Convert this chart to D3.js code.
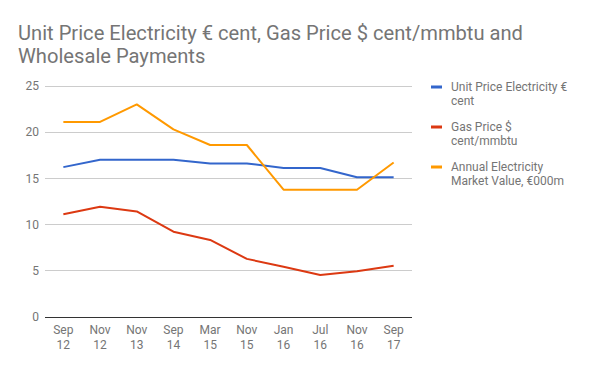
<!DOCTYPE html>
<html>
<head>
<meta charset="utf-8">
<script src="https://d3js.org/d3.v7.min.js"></script>
<style>
  body { margin: 0; background: #fff; font-family: Roboto, sans-serif; }
  svg text { font-family: Roboto, sans-serif; }
</style>
</head>
<body>
<div id="chart"></div>
<script>
// Data
const months = ["Sep", "Nov", "Nov", "Sep", "Mar", "Nov", "Jan", "Jul", "Nov", "Sep"];
const years = ["12", "12", "13", "14", "15", "15", "16", "16", "16", "17"];
const unitPrice = [16.2, 17.0, 17.0, 17.0, 16.6, 16.6, 16.1, 16.1, 15.1, 15.1];
const gasPrice = [11.1, 11.9, 11.4, 9.2, 8.3, 6.25, 5.4, 4.5, 4.9, 5.5];
const marketValue = [21.1, 21.1, 23.0, 20.3, 18.6, 18.6, 13.75, 13.75, 13.75, 16.7];
const yTicks = [0, 5, 10, 15, 20, 25];

const series = [
  { name: ["Unit Price Electricity €", "cent"], values: unitPrice, color: "#3366cc" },
  { name: ["Gas Price $", "cent/mmbtu"], values: gasPrice, color: "#dc3912" },
  { name: ["Annual Electricity", "Market Value, €000m"], values: marketValue, color: "#ff9900" }
];

const W = 600, H = 371;
const plot = { left: 45, right: 412, top: 86, bottom: 316.5 };
const textColor = "#757575";

const svg = d3.select("#chart").append("svg")
  .attr("width", W).attr("height", H);

// Title
const title = svg.append("text")
  .attr("x", 18).attr("y", 40)
  .attr("fill", textColor)
  .style("font-size", "20.15px");
title.append("tspan").attr("x", 18).attr("y", 40)
  .text("Unit Price Electricity € cent, Gas Price $ cent/mmbtu and");
title.append("tspan").attr("x", 18).attr("y", 63)
  .text("Wholesale Payments");

const idx = d3.range(months.length);
const x = d3.scaleBand().domain(idx).range([plot.left, plot.right]);
const y = d3.scaleLinear().domain([0, 25]).range([plot.bottom, plot.top]);

// Gridlines
svg.append("g")
  .selectAll("line")
  .data(yTicks.filter(d => d > 0))
  .join("line")
  .attr("x1", plot.left).attr("x2", plot.right)
  .attr("y1", d => Math.round(y(d)) + 0.5).attr("y2", d => Math.round(y(d)) + 0.5)
  .attr("stroke", "#cccccc").attr("stroke-width", 1);

// Y axis labels
const yAxis = svg.append("g")
  .attr("transform", `translate(${plot.left},0)`)
  .call(d3.axisLeft(y).tickValues(yTicks).tickSize(0).tickPadding(6));
yAxis.select(".domain").remove();
yAxis.selectAll("text")
  .attr("fill", textColor)
  .style("font-size", "12px");

// Lines
const line = d3.line()
  .x((d, i) => x(i) + x.bandwidth() / 2)
  .y(d => y(d));

svg.append("g")
  .selectAll("path")
  .data(series)
  .join("path")
  .attr("d", d => line(d.values))
  .attr("fill", "none")
  .attr("stroke", d => d.color)
  .attr("stroke-width", 2)
  .attr("stroke-linejoin", "round");

// Baseline
svg.append("line")
  .attr("x1", plot.left).attr("x2", plot.right)
  .attr("y1", Math.round(y(0)) + 0.5).attr("y2", Math.round(y(0)) + 0.5)
  .attr("stroke", "#333333").attr("stroke-width", 1);

// X axis labels (two lines)
const xAxis = svg.append("g")
  .attr("transform", `translate(0,${plot.bottom})`)
  .call(d3.axisBottom(x).tickSize(0).tickFormat(() => ""));
xAxis.select(".domain").remove();
xAxis.selectAll(".tick text").remove();
xAxis.selectAll(".tick").each(function (d) {
  const t = d3.select(this).append("text")
    .attr("fill", textColor)
    .attr("text-anchor", "middle")
    .style("font-size", "12px");
  t.append("tspan").attr("x", 0).attr("y", 17).text(months[d]);
  t.append("tspan").attr("x", 0).attr("y", 32).text(years[d]);
});

// Legend
const legend = svg.append("g");
series.forEach((s, i) => {
  const y0 = 87 + i * 40;
  legend.append("rect")
    .attr("x", 431).attr("y", y0 - 1.5)
    .attr("width", 11).attr("height", 3)
    .attr("fill", s.color);
  const t = legend.append("text")
    .attr("fill", textColor)
    .style("font-size", "12px");
  s.name.forEach((n, j) => {
    t.append("tspan").attr("x", 451).attr("y", y0 + 4 + j * 14).text(n);
  });
});
</script>
</body>
</html>
